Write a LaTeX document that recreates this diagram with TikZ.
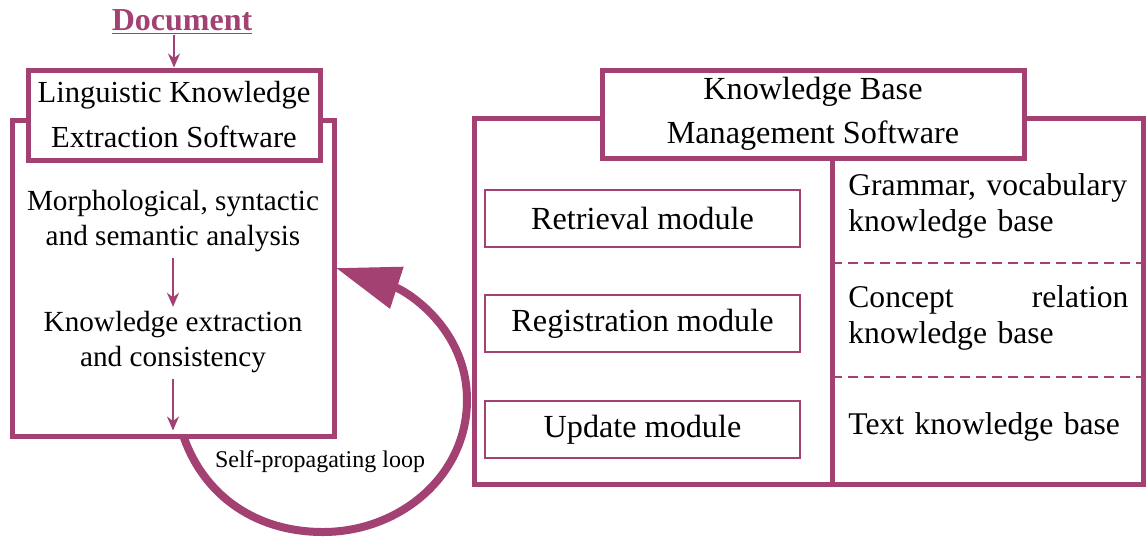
\documentclass[tikz,border=0pt]{standalone}
\usepackage{fontspec}
\setmainfont{Liberation Serif}
\usetikzlibrary{arrows.meta}
\definecolor{plum}{RGB}{162,65,114}
\tikzset{
  bigbox/.style={draw=plum, line width=2.5pt, fill=white},
  modbox/.style={draw=plum, line width=1.2pt, minimum width=157.5pt, minimum height=28.5pt, txt, font=\fontsize{16.1}{18}\selectfont},
  txt/.style={font=\fontsize{14.6}{17.5}\selectfont, align=center, inner sep=0pt},
  hdrtxt/.style={font=\fontsize{15.3}{22.5}\selectfont, align=center, inner sep=0pt},
  kbtxt/.style={txt, font=\fontsize{15.8}{17.8}\selectfont, anchor=west, align=left, text width=140pt},
  flow/.style={draw=plum, line width=1pt, -{Stealth[length=7pt,width=6pt]}},
  cycarrow/.style={draw=plum, line width=4pt, -{Triangle[length=32pt,width=21pt]}},
  kbdash/.style={draw=plum, line width=1.2pt, dash pattern=on 5pt off 3pt},
}
\begin{document}
\begin{tikzpicture}[x=0.5pt, y=-0.5pt]
    \useasboundingbox (0,0) rectangle (1146,538);
    \coordinate (loopstart) at (180,425);
    \coordinate (loopend) at (336,268);
    \draw[cycarrow] (loopstart) to[out=-75,in=180] (323,532) to[out=0,in=-90] (467,400) to[out=90,in=-18] (loopend);
    \node[txt, font=\fontsize{12}{14}\selectfont] (looplbl) at (320,462) {Self-propagating loop};

    \node[bigbox, minimum width=161pt, minimum height=158pt] (lkes) at (173,278) {};
    \node[bigbox, hdrtxt, minimum width=146pt, minimum height=45pt] (lkh) at (174,115) {Linguistic Knowledge\\Extraction Software};
    \node[txt, font=\fontsize{16}{18}\selectfont\bfseries, text=plum] (doc) at (182,22) {\underline{Document}};
    \draw[flow] (doc.south -| lkh.north) -- (lkh.north);
    \node[txt] (morph) at (173,221) {Morphological, syntactic\\and semantic analysis};
    \node[txt] (extr) at (173,342) {Knowledge extraction\\and consistency};
    \draw[flow, shorten <=3pt, shorten >=2pt] (morph) -- (extr);
    \draw[flow, shorten <=3pt, shorten >=4pt] (extr) -- (extr |- lkes.south);

    \node[bigbox, minimum width=334.5pt, minimum height=183pt] (kbms) at (808.5,301) {};
    \node[bigbox, hdrtxt, font=\fontsize{16.1}{22}\selectfont, minimum width=211pt, minimum height=44pt] (kbh) at (813,114) {Knowledge Base\\Management Software};
    \node[modbox] (retr) at (642.5,218.5) {Retrieval module};
    \node[modbox] (regi) at (642.5,323.5) {Registration module};
    \node[modbox] (upd) at (642.5,429.5) {Update module};
    \coordinate (divx) at (832,0);
    \draw[plum, line width=2.5pt] (divx |- kbh.south) -- (divx |- kbms.south);
    \coordinate (dashone) at (832,263);
    \coordinate (dashtwo) at (832,377);
    \draw[kbdash] (dashone) -- (dashone -| kbms.east);
    \draw[kbdash] (dashtwo) -- (dashtwo -| kbms.east);
    \node[kbtxt] (gram) at (848,206) {Grammar, vocabulary\\knowledge base};
    \node[kbtxt] (conc) at (848,318) {Concept\hfill relation\\knowledge base};
    \node[kbtxt] (textkb) at (848,427) {Text knowledge base};
\end{tikzpicture}
\end{document}
